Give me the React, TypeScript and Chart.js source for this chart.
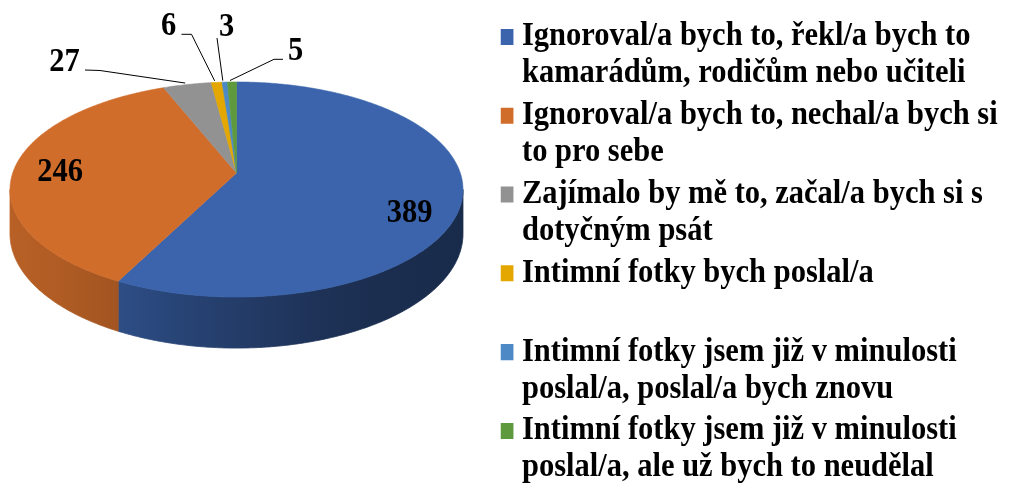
import React, { useEffect, useRef } from 'react';
import { Chart, registerables } from 'chart.js';

Chart.register(...registerables);

// ---------- data ----------
const CATEGORIES: string[] = [
  'Ignoroval/a bych to, řekl/a bych to kamarádům, rodičům nebo učiteli',
  'Ignoroval/a bych to, nechal/a bych si to pro sebe',
  'Zajímalo by mě to, začal/a bych si s dotyčným psát',
  'Intimní fotky bych poslal/a',
  'Intimní fotky jsem již v minulosti poslal/a, poslal/a bych znovu',
  'Intimní fotky jsem již v minulosti poslal/a, ale už bych to neudělal',
];
const VALUES: number[] = [389, 246, 27, 6, 3, 5];
const LEGEND_LINES: string[][] = [
  ['Ignoroval/a bych to, řekl/a bych to', 'kamarádům, rodičům nebo učiteli'],
  ['Ignoroval/a bych to, nechal/a bych si', 'to pro sebe'],
  ['Zajímalo by mě to, začal/a bych si s', 'dotyčným psát'],
  ['Intimní fotky bych poslal/a', ''],
  ['Intimní fotky jsem již v minulosti', 'poslal/a, poslal/a bych znovu'],
  ['Intimní fotky jsem již v minulosti', 'poslal/a, ale už bych to neudělal'],
];
const COLORS: string[] = ['#3B64AD', '#D16D2B', '#929292', '#E3A700', '#4C89C5', '#5E9A3D'];

// ---------- layout / style ----------
const W = 1025;
const H = 485;
const FONT = '"Times New Roman", "Liberation Serif", serif';
const FONT_SIZE = 30.5;
const TEXT_SY = 1.075; // vertical stretch of the text
const PIE = { cx: 236.5, cy: 173, rx: 223.8, ry: 105, k: 0.1535, depth: 43.2 };
// side shading across the pie width (position 0..1 -> brightness factor)
const SIDE_SHADE: [number, number][] = [
  [0, 0.88], [0.11, 0.84], [0.243, 0.77], [0.375, 0.68],
  [0.523, 0.59], [0.684, 0.5], [0.817, 0.46], [1, 0.43],
];
type LabelPos = { x: number; y: number; line?: [number, number][] };
const LABEL_POS: LabelPos[] = [
  { x: 409.5, y: 222 },
  { x: 60, y: 181 },
  { x: 64.5, y: 71, line: [[85, 70], [100, 70.5]] },
  { x: 168.5, y: 35, line: [[181.5, 34.3], [191.5, 34.3]] },
  { x: 226.5, y: 36, line: [[217, 38], [217, 38]] },
  { x: 295.5, y: 60, line: [[283, 59.3], [274, 59.3]] },
];
const LEGEND_LEFT = 500.75;
const LEGEND_TOP = 14.6; // in stretched space
const LEGEND_LINE_H = 34.4; // in stretched space
const LEGEND_PAD = 4.5;

function shade(hex: string, f: number): string {
  const n = parseInt(hex.slice(1), 16);
  const r = Math.round(((n >> 16) & 255) * f);
  const g = Math.round(((n >> 8) & 255) * f);
  const b = Math.round((n & 255) * f);
  return `rgb(${r},${g},${b})`;
}

function proj(c: number, s: number, r: number, h: number): [number, number] {
  const w = 1 - PIE.k * s * r;
  return [PIE.cx + (PIE.rx * c * r) / w, PIE.cy + (PIE.ry * s * r + h) / w];
}

function sampleAngles(a1: number, a2: number): number[] {
  const n = Math.max(2, Math.ceil((a2 - a1) / 0.01) + 1);
  const out: number[] = [];
  for (let i = 0; i < n; i++) out.push(a1 + ((a2 - a1) * i) / (n - 1));
  return out;
}

const legendPosPlugin = {
  id: 'legendPos',
  afterLayout(chart: any) {
    const l = chart.legend;
    if (!l) return;
    const w = l.width;
    l.left = LEGEND_LEFT;
    l.right = LEGEND_LEFT + w;
    l.top = LEGEND_TOP;
    l.bottom = H + 40;
    if (!l.__stretched) {
      const orig = l.draw;
      l.draw = function (...args: any[]) {
        const ctx = this.ctx;
        ctx.save();
        ctx.scale(1, TEXT_SY);
        orig.apply(this, args);
        ctx.restore();
      };
      l.__stretched = true;
    }
  },
};

const pie3dPlugin = {
  id: 'pie3d',
  beforeDatasetsDraw(chart: any) {
    const ctx: CanvasRenderingContext2D = chart.ctx;
    const meta = chart.getDatasetMeta(0);
    const arcs = meta.data as any[];
    const colors = chart.data.datasets[0].backgroundColor as string[];
    const data = chart.data.datasets[0].data as number[];
    const tR = Math.asin(PIE.k);
    const tL = Math.PI - tR;

    ctx.save();
    // sides
    arcs.forEach((arc, i) => {
      const a1 = Math.max(arc.startAngle, tR);
      const a2 = Math.min(arc.endAngle, tL);
      if (a2 <= a1) return;
      const grad = ctx.createLinearGradient(PIE.cx - 226.5, 0, PIE.cx + 226.5, 0);
      SIDE_SHADE.forEach(([t, f]) => grad.addColorStop(t, shade(colors[i], f)));
      ctx.beginPath();
      const angs = sampleAngles(a1, a2);
      angs.forEach((a, j) => {
        const [x, y] = proj(Math.cos(a), Math.sin(a), 1, 0);
        if (j === 0) ctx.moveTo(x, y);
        else ctx.lineTo(x, y);
      });
      for (let j = angs.length - 1; j >= 0; j--) {
        const a = angs[j];
        const [x, y] = proj(Math.cos(a), Math.sin(a), 1, PIE.depth);
        ctx.lineTo(x, y);
      }
      ctx.closePath();
      ctx.fillStyle = grad;
      ctx.fill();
      ctx.strokeStyle = grad;
      ctx.lineWidth = 0.8;
      ctx.stroke();
    });
    // top faces
    arcs.forEach((arc, i) => {
      const [cx, cy] = proj(0, 0, 0, 0);
      ctx.beginPath();
      ctx.moveTo(cx, cy);
      sampleAngles(arc.startAngle, arc.endAngle).forEach((a) => {
        const [x, y] = proj(Math.cos(a), Math.sin(a), 1, 0);
        ctx.lineTo(x, y);
      });
      ctx.closePath();
      ctx.fillStyle = colors[i];
      ctx.fill();
      ctx.strokeStyle = colors[i];
      ctx.lineWidth = 0.6;
      ctx.stroke();
    });
    // leader lines
    ctx.strokeStyle = '#000';
    ctx.lineWidth = 1;
    arcs.forEach((arc, i) => {
      const lp = LABEL_POS[i];
      if (!lp || !lp.line) return;
      const mid = (arc.startAngle + arc.endAngle) / 2;
      const [ex, ey] = proj(Math.cos(mid), Math.sin(mid), 1, 0);
      ctx.beginPath();
      ctx.moveTo(lp.line[0][0], lp.line[0][1]);
      ctx.lineTo(lp.line[1][0], lp.line[1][1]);
      ctx.lineTo(ex - 2, ey - 1.5);
      ctx.stroke();
    });
    // value labels
    ctx.font = `bold ${FONT_SIZE}px ${FONT}`;
    ctx.fillStyle = '#000';
    ctx.textAlign = 'center';
    ctx.textBaseline = 'alphabetic';
    arcs.forEach((_arc, i) => {
      const lp = LABEL_POS[i];
      if (!lp) return;
      ctx.save();
      ctx.translate(lp.x, lp.y);
      ctx.scale(1, TEXT_SY);
      ctx.fillText(String(data[i]), 0, 0);
      ctx.restore();
    });
    ctx.restore();
    return false;
  },
};

export default function App() {
  const ref = useRef<HTMLCanvasElement | null>(null);
  useEffect(() => {
    if (!ref.current) return;
    Chart.defaults.font.family = FONT;
    const chart = new Chart(ref.current, {
      type: 'pie',
      data: {
        labels: CATEGORIES,
        datasets: [{ data: VALUES, backgroundColor: COLORS, borderWidth: 0 }],
      },
      options: {
        responsive: false,
        animation: false,
        events: [],
        layout: { padding: 0 },
        plugins: {
          tooltip: { enabled: false },
          legend: {
            display: true,
            position: 'right',
            align: 'start',
            labels: {
              color: '#000',
              font: { family: FONT, size: FONT_SIZE, weight: 'bold', lineHeight: LEGEND_LINE_H / FONT_SIZE },
              boxWidth: 1.5,
              boxHeight: 14.9,
              usePointStyle: true,
              pointStyle: 'rect',
              padding: LEGEND_PAD,
              generateLabels: () =>
                LEGEND_LINES.map((lines, i) => ({
                  text: lines as any,
                  fillStyle: COLORS[i],
                  strokeStyle: COLORS[i],
                  lineWidth: 0,
                  pointStyle: 'rect',
                  hidden: false,
                  index: i,
                  datasetIndex: 0,
                })),
            },
          },
        },
      } as any,
      plugins: [legendPosPlugin, pie3dPlugin] as any,
    });
    return () => chart.destroy();
  }, []);
  return (
    <div style={{ position: 'fixed', left: 0, top: 0, width: W, height: H, background: '#fff' }}>
      <canvas ref={ref} width={W} height={H} style={{ display: 'block' }} />
    </div>
  );
}
